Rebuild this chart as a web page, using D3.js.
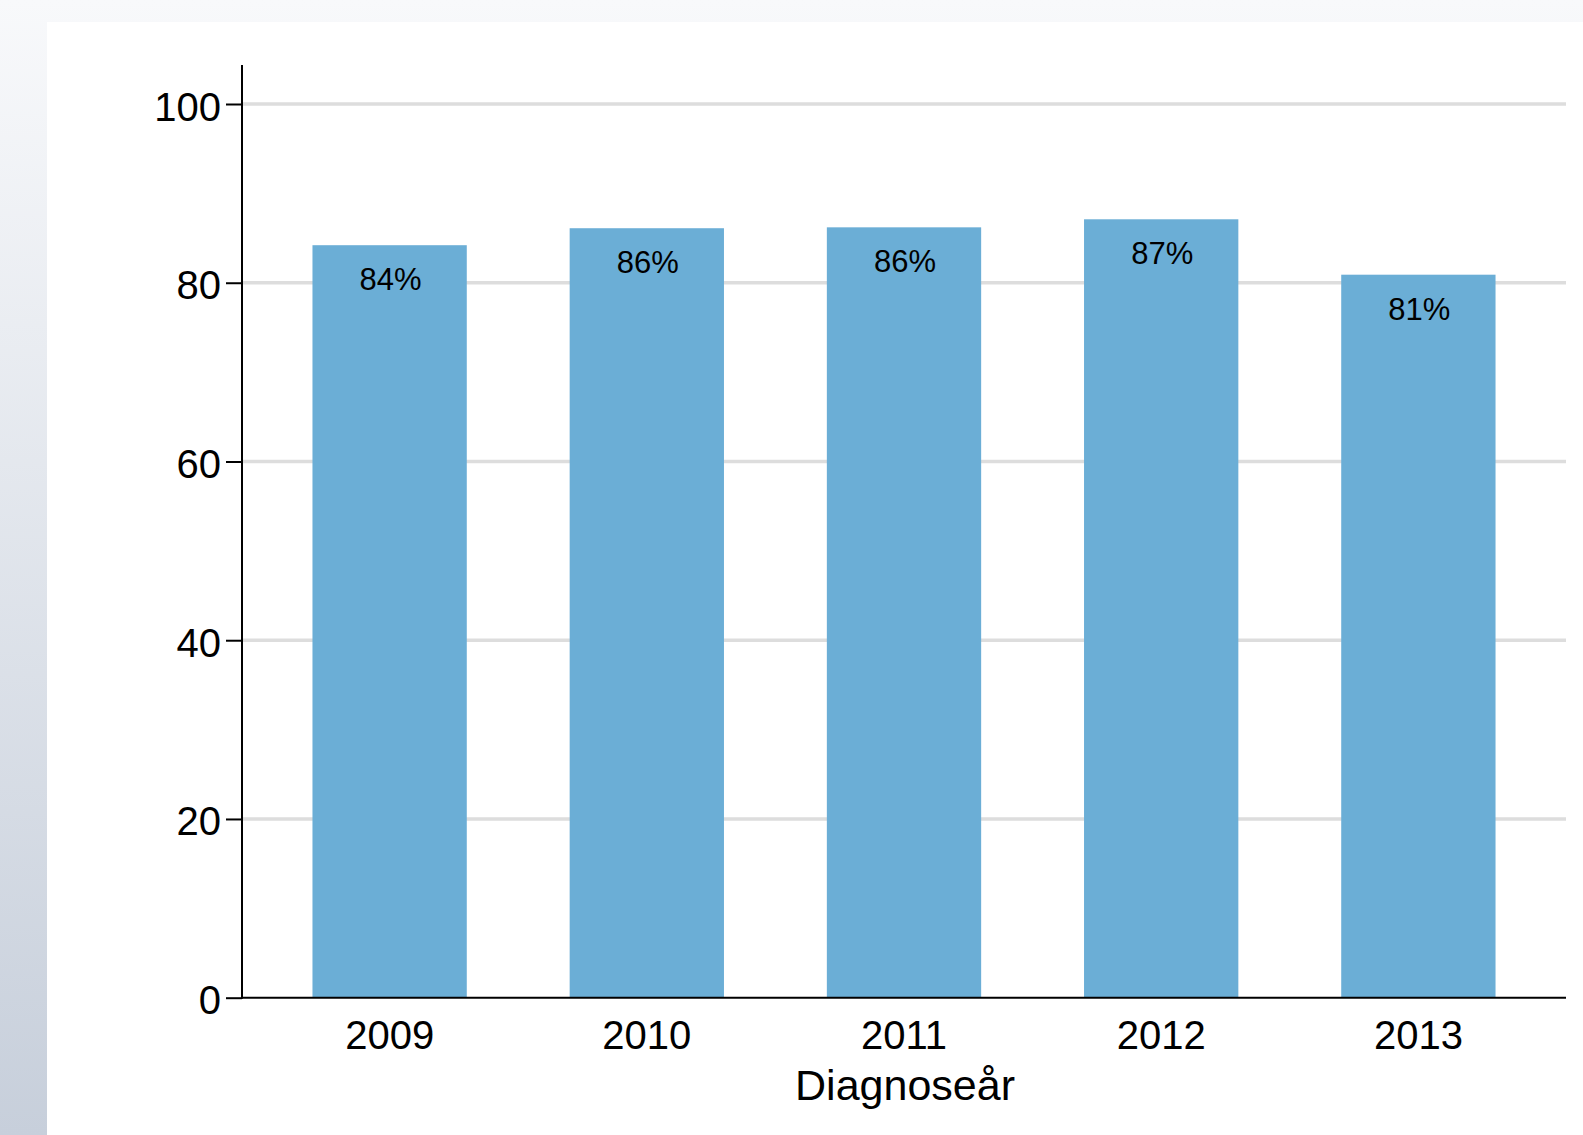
<!DOCTYPE html>
<html>
<head>
<meta charset="utf-8">
<script src="https://cdn.jsdelivr.net/npm/d3@7"></script>
<style>
  html, body { margin: 0; padding: 0; overflow: hidden; }
  text { font-family: "Liberation Sans", Arial, Helvetica, sans-serif; }
</style>
</head>
<body>
<div id="chart"></div>
<script>
// chart data
var years = ["2009", "2010", "2011", "2012", "2013"];
var shares = [84.2, 86.1, 86.2, 87.1, 80.9];
var shareLabels = ["84%", "86%", "86%", "87%", "81%"];
var yTicks = [0, 20, 40, 60, 80, 100];
var xTitle = "Diagnoseår";

var svgWidth = 1583;
var svgHeight = 1135;

var svg = d3.select("#chart")
  .append("svg")
  .attr("width", svgWidth)
  .attr("height", svgHeight);

// page background: grey-blue fade on the left, white panel
var defs = svg.append("defs");
var grad = defs.append("linearGradient")
  .attr("id", "bg")
  .attr("x1", 0).attr("y1", 0)
  .attr("x2", 0).attr("y2", 1);
grad.append("stop").attr("offset", "0%").attr("stop-color", "#f8f9fb");
grad.append("stop").attr("offset", "100%").attr("stop-color", "#c7cfdb");

svg.append("rect")
  .attr("width", svgWidth)
  .attr("height", svgHeight)
  .attr("fill", "url(#bg)");

svg.append("rect")
  .attr("x", 47)
  .attr("y", 22)
  .attr("width", svgWidth - 47)
  .attr("height", svgHeight - 22)
  .attr("fill", "#ffffff");

// plot area
var plotLeft = 242, plotRight = 1566, plotTop = 65, plotBottom = 997.7;

var x = d3.scaleBand()
  .domain(years)
  .range([plotLeft, plotRight])
  .paddingInner(0.4)
  .paddingOuter(0.274);

var y = d3.scaleLinear()
  .domain([0, 100])
  .range([plotBottom, 104]);

// grid lines
svg.append("g")
  .selectAll("line")
  .data(yTicks.filter(d => d > 0))
  .enter()
  .append("line")
  .attr("x1", plotLeft)
  .attr("x2", plotRight)
  .attr("y1", d => y(d))
  .attr("y2", d => y(d))
  .attr("stroke", "#dddddd")
  .attr("stroke-width", 3.5);

// bars
var data = years.map((yr, i) => ({ year: yr, value: shares[i], label: shareLabels[i] }));

svg.append("g")
  .selectAll("rect")
  .data(data)
  .enter()
  .append("rect")
  .attr("x", d => x(d.year))
  .attr("y", d => y(d.value))
  .attr("width", x.bandwidth())
  .attr("height", d => plotBottom - y(d.value))
  .attr("fill", "#6baed6");

// value labels inside the bars
svg.append("g")
  .selectAll("text")
  .data(data)
  .enter()
  .append("text")
  .attr("x", d => x(d.year) + x.bandwidth() / 2 + 1)
  .attr("y", d => y(d.value) + 45)
  .attr("text-anchor", "middle")
  .attr("font-size", "31px")
  .attr("fill", "#000")
  .text(d => d.label);

// y axis
var yAxis = d3.axisLeft(y)
  .tickValues(yTicks)
  .tickSize(16)
  .tickPadding(5)
  .tickSizeOuter(0);

var gy = svg.append("g")
  .attr("transform", `translate(${plotLeft}, 0)`)
  .call(yAxis);
gy.select(".domain").remove();
gy.selectAll(".tick line").attr("stroke", "#000").attr("stroke-width", 2);
gy.selectAll(".tick text")
  .attr("font-size", "40px")
  .attr("dy", "0.4em")
  .attr("font-family", "Liberation Sans, Arial, sans-serif")
  .attr("fill", "#000");

svg.append("line")
  .attr("x1", plotLeft).attr("x2", plotLeft)
  .attr("y1", plotTop).attr("y2", plotBottom + 1)
  .attr("stroke", "#000")
  .attr("stroke-width", 2);

// x axis
var xAxis = d3.axisBottom(x).tickSize(0).tickPadding(23);
var gx = svg.append("g")
  .attr("transform", `translate(0, ${plotBottom})`)
  .call(xAxis);
gx.select(".domain").remove();
gx.selectAll(".tick text")
  .attr("font-size", "40px")
  .attr("font-family", "Liberation Sans, Arial, sans-serif")
  .attr("fill", "#000");

svg.append("line")
  .attr("x1", plotLeft - 1).attr("x2", plotRight)
  .attr("y1", plotBottom).attr("y2", plotBottom)
  .attr("stroke", "#000")
  .attr("stroke-width", 2);

// x axis title
svg.append("text")
  .attr("x", (plotLeft + plotRight) / 2 + 1)
  .attr("y", 1100)
  .attr("text-anchor", "middle")
  .attr("font-size", "43px")
  .attr("fill", "#000")
  .text(xTitle);
</script>
</body>
</html>
